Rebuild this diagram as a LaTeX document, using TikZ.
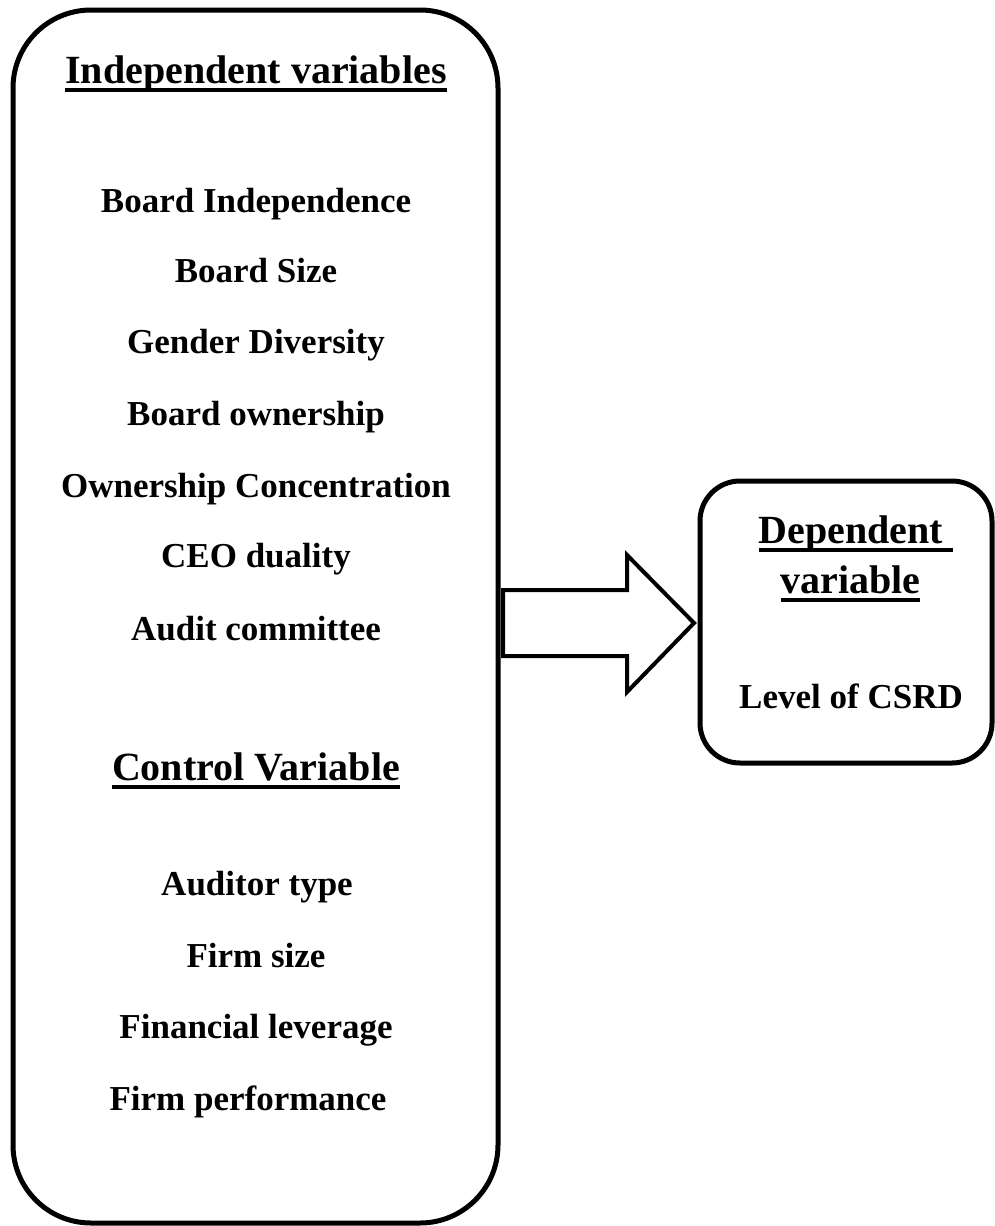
\documentclass[tikz,border=0pt]{standalone}
\usepackage{fontspec}
\setmainfont{Liberation Serif}
\newcommand\myul[1]{\setbox0\hbox{#1}\rlap{\rule[-9pt]{\wd0}{4.5pt}}\box0}
\tikzset{
  frame/.style={draw=black, line width=5pt},
  item/.style={inner sep=0pt, anchor=base, font=\fontsize{35}{42}\selectfont\bfseries},
  head/.style={inner sep=0pt, anchor=base, font=\fontsize{40}{48}\selectfont\bfseries},
  blockarrow/.style={draw=black, line width=4pt, line join=miter, fill=white}
}
\begin{document}
\begin{tikzpicture}[x=1pt, y=-1pt]
\useasboundingbox (0,0) rectangle (995,1226);
% boxes
\draw[frame, rounded corners=78pt] (13,10) rectangle (498,1223);
\draw[frame, rounded corners=40pt] (700,481) rectangle (992,763);
\coordinate (lb) at (498,623);
\coordinate (rb) at (700,623);
% block arrow
\draw[blockarrow] (503,590) -- (627,590) -- (627,555) -- (694,623) -- (627,692) -- (627,656) -- (503,656) -- cycle;
% left texts
\node[head] (iv) at (256,83) {\myul{Independent variables}};
\node[item] (t1) at (256,212) {Board Independence};
\node[item] (t2) at (256,282) {Board Size};
\node[item] (t3) at (256,353) {Gender Diversity};
\node[item] (t4) at (256,425) {Board ownership};
\node[item] (t5) at (256,497) {Ownership Concentration};
\node[item] (t6) at (256,567) {CEO duality};
\node[item] (t7) at (256,640) {Audit committee};
\node[head] (cv) at (256,780) {\myul{Control Variable}};
\node[item] (c1) at (257,895) {Auditor type};
\node[item] (c2) at (256,967) {Firm size};
\node[item] (c3) at (256,1038) {Financial leverage};
\node[item] (c4) at (248,1110) {Firm performance};
% right texts
\node[head] (dv1) at (856,543) {\myul{Dependent\ }};
\node[head] (dv2) at (850.5,593) {\myul{variable}};
\node[item] (lv) at (851,708) {Level of CSRD};
\end{tikzpicture}
\end{document}
